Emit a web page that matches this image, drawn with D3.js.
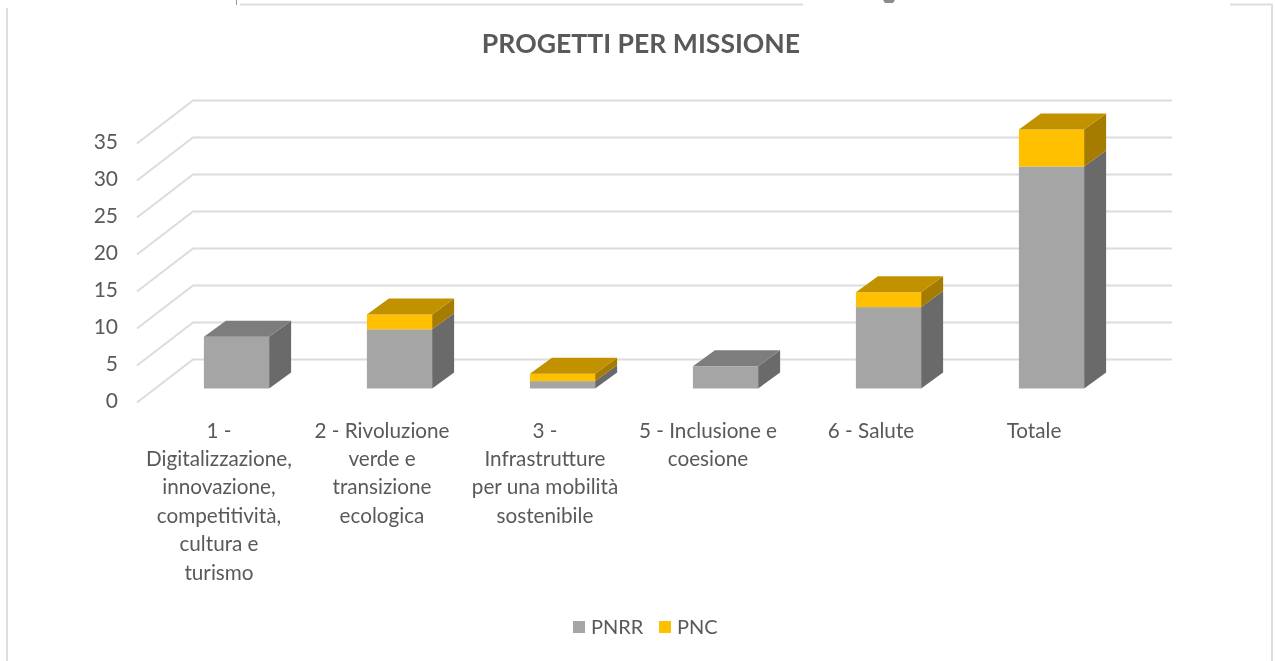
<!DOCTYPE html>
<html>
<head>
<meta charset="utf-8">
<script src="https://d3js.org/d3.v7.min.js"></script>
<style>
    html, body { margin: 0; padding: 0; background: #fff; }
    /* the reference is a soft, rescaled screenshot */
    svg { display: block; font-family: Lato, sans-serif; filter: blur(0.5px); }
    text { fill: #595959; }
</style>
</head>
<body>
<div id="chart"></div>
<script>
var categories = ['1', '2', '3', '5', '6', 'Totale'];
var categoryLines = [
    ['1 -', 'Digitalizzazione,', 'innovazione,', 'competitività,', 'cultura e', 'turismo'],
    ['2 - Rivoluzione', 'verde e', 'transizione', 'ecologica'],
    ['3 -', 'Infrastrutture', 'per una mobilità', 'sostenibile'],
    ['5 - Inclusione e', 'coesione'],
    ['6 - Salute'],
    ['Totale']
];
var pnrr = [7, 8, 1, 3, 11, 30];
var pnc = [0, 2, 1, 0, 2, 5];
var yTicks = [0, 5, 10, 15, 20, 25, 30, 35];
var seriesNames = ['PNRR', 'PNC'];
var title = 'PROGETTI PER MISSIONE';

var colors = {
    PNRR: { front: '#a5a5a5', side: '#6a6a6a', top: '#7d7d7d' },
    PNC: { front: '#ffc000', side: '#a67c00', top: '#c29100' }
};

var width = 1275, height = 661;
var barDepth = { x: 22, y: 16 };

var svg = d3.select('#chart').append('svg')
    .attr('width', width)
    .attr('height', height);

// page frame left over from the screenshot
var frame = svg.append('g').attr('stroke', '#dedede').attr('stroke-width', 2).attr('fill', 'none');
frame.append('path').attr('d', 'M7,8V661');
frame.append('path').attr('d', 'M240,4.5H803');
frame.append('path').attr('d', 'M1230,4.5H1272V661');
svg.append('path').attr('d', 'M236.5,0V5').attr('stroke', '#9a9a9a').attr('fill', 'none');
svg.append('path').attr('d', 'M883,0H895L893,3H885Z').attr('fill', '#8c8c8c');

svg.append('text')
    .attr('x', 641)
    .attr('y', 53)
    .attr('text-anchor', 'middle')
    .style('font-size', '26.6px')
    .style('font-weight', 700)
    .text(title);

var x = d3.scaleBand()
    .domain(categories)
    .range([155, 1133])
    .paddingInner(0.6)
    .paddingOuter(0.3);

var y = d3.scaleLinear()
    .domain([0, 35])
    .range([388.5, 129.5]);

// floor offset of the back wall and the front edge, seen from the bar plane
var back = { x: 38, y: -29 };
var front = { x: -18, y: 14 };
var xEnd = 1134;

var grid = svg.append('g')
    .attr('fill', 'none')
    .attr('stroke', '#dcdcdc')
    .attr('stroke-width', 2);

grid.selectAll('path')
    .data(yTicks)
    .enter().append('path')
    .attr('d', function(d) {
        var yy = y(d);
        return 'M' + (x.range()[0] + front.x) + ',' + (yy + front.y) +
            'L' + (x.range()[0] + back.x) + ',' + (yy + back.y) +
            'H' + (xEnd + back.x);
    });

var yAxis = d3.axisLeft(y)
    .tickValues(yTicks)
    .tickSize(0)
    .tickPadding(0);

var yAxisG = svg.append('g')
    .attr('transform', 'translate(118,12.5)')
    .call(yAxis);
yAxisG.select('.domain').remove();
yAxisG.selectAll('text')
    .style('font-family', 'Lato, sans-serif')
    .style('font-size', '21px')
    .style('fill', '#595959');

var table = categories.map(function(c, i) {
    return { category: c, PNRR: pnrr[i], PNC: pnc[i] };
});
var stacked = d3.stack().keys(seriesNames)(table);

var bars = svg.append('g');

stacked.forEach(function(layer) {
    var col = colors[layer.key];
    var g = bars.append('g').attr('class', 'layer-' + layer.key);

    var shown = layer.filter(function(d) { return d[1] > d[0]; });

    // side face
    g.selectAll('.side')
        .data(shown)
        .enter().append('path')
        .attr('class', 'side')
        .attr('fill', col.side)
        .attr('d', function(d) {
            var x1 = x(d.data.category) + x.bandwidth();
            return 'M' + x1 + ',' + y(d[0]) +
                'L' + (x1 + barDepth.x) + ',' + (y(d[0]) - barDepth.y) +
                'V' + (y(d[1]) - barDepth.y) +
                'L' + x1 + ',' + y(d[1]) + 'Z';
        });

    // front face
    g.selectAll('.front')
        .data(shown)
        .enter().append('rect')
        .attr('class', 'front')
        .attr('fill', col.front)
        .attr('x', function(d) { return x(d.data.category); })
        .attr('y', function(d) { return y(d[1]); })
        .attr('width', x.bandwidth())
        .attr('height', function(d) { return y(d[0]) - y(d[1]); });

    // top face only on the highest segment of the bar
    g.selectAll('.top')
        .data(shown.filter(function(d) {
            return d[1] === d.data.PNRR + d.data.PNC;
        }))
        .enter().append('path')
        .attr('class', 'top')
        .attr('fill', col.top)
        .attr('d', function(d) {
            var x0 = x(d.data.category);
            return 'M' + x0 + ',' + y(d[1]) +
                'l' + barDepth.x + ',' + (-barDepth.y) +
                'h' + x.bandwidth() +
                'l' + (-barDepth.x) + ',' + barDepth.y + 'Z';
        });
});

var labelsG = svg.append('g')
    .attr('transform', 'translate(-17.5,0)');

var labels = labelsG.selectAll('text')
    .data(categories)
    .enter().append('text')
    .attr('text-anchor', 'middle')
    .style('font-size', '20.7px');

labels.selectAll('tspan')
    .data(function(d, i) {
        return categoryLines[i].map(function(line) {
            return { category: d, line: line };
        });
    })
    .enter().append('tspan')
    .attr('x', function(d) { return x(d.category) + x.bandwidth() / 2; })
    .attr('y', function(d, i) { return 437.5 + i * 28.4; })
    .text(function(d) { return d.line; });

var legendX = d3.scaleOrdinal().domain(seriesNames).range([573, 659]);

var legend = svg.selectAll('.legend')
    .data(seriesNames)
    .enter().append('g')
    .attr('class', 'legend')
    .attr('transform', function(d) { return 'translate(' + legendX(d) + ',621)'; });

legend.append('rect')
    .attr('width', 12)
    .attr('height', 12)
    .attr('fill', function(d) { return colors[d].front; });

legend.append('text')
    .attr('x', 18)
    .attr('y', 13)
    .style('font-size', '20px')
    .text(function(d) { return d; });
</script>
</body>
</html>
